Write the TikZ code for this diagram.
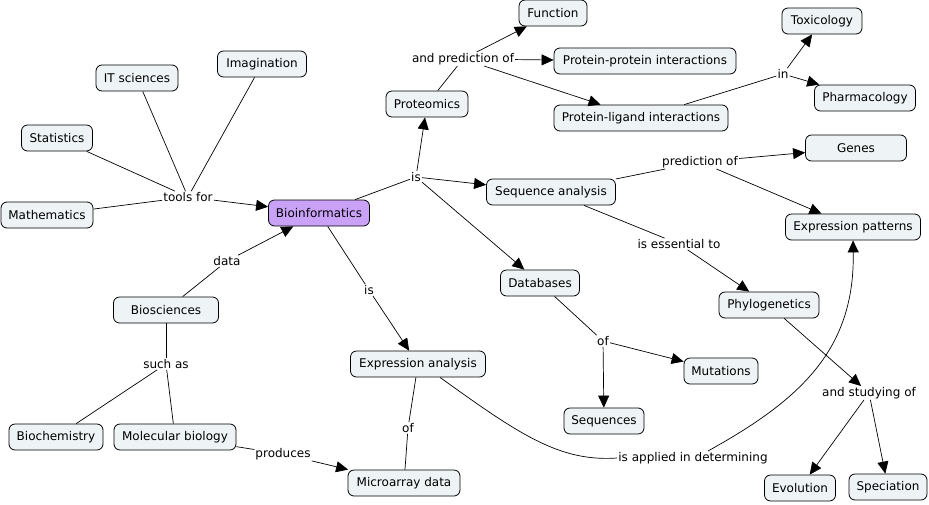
\documentclass[tikz,border=0pt]{standalone}
\usepackage{fontspec}
\setmainfont{DejaVu Sans}
\usetikzlibrary{arrows.meta}
\definecolor{boxfill}{HTML}{EEF3F5}
\definecolor{biofill}{HTML}{C9A2F7}
\tikzset{
  concept/.style={draw=black, fill=boxfill, rounded corners=6pt, line width=0.8pt,
    minimum height=26pt, inner xsep=4pt, inner ysep=2pt, font=\fontsize{12}{13}\selectfont},
  lbl/.style={inner sep=1pt, font=\fontsize{12}{13}\selectfont},
  conn/.style={line width=0.7pt},
  arr/.style={conn, -{Triangle[length=12pt,width=11pt]}}
}
\begin{document}
\begin{tikzpicture}[x=1pt,y=-1pt]
\useasboundingbox (0,0) rectangle (929,504);
% concepts
\node[concept, minimum width=68pt] (func) at (553,13) {Function};
\node[concept, minimum width=182pt] (ppi) at (645,61) {Protein-protein interactions};
\node[concept, minimum width=174pt] (pli) at (641,118) {Protein-ligand interactions};
\node[concept, minimum width=80pt] (tox) at (822,21) {Toxicology};
\node[concept, minimum width=101pt] (pharm) at (865,98) {Pharmacology};
\node[concept, minimum width=101pt] (genes) at (856,148) {Genes};
\node[concept, minimum width=135pt] (exprp) at (853,227) {Expression patterns};
\node[concept, minimum width=82pt] (prot) at (427,104) {Proteomics};
\node[concept, minimum width=129pt] (seqa) at (551,192) {Sequence analysis};
\node[concept, minimum width=89pt] (imag) at (262,64) {Imagination};
\node[concept, minimum width=82pt] (its) at (137,78) {IT sciences};
\node[concept, minimum width=71pt] (stat) at (57,138) {Statistics};
\node[concept, minimum width=92pt] (math) at (47,215) {Mathematics};
\node[concept, minimum width=101pt, fill=biofill] (bio) at (319,213) {Bioinformatics};
\node[concept, minimum width=105pt] (bios) at (166,310) {Biosciences};
\node[concept, minimum width=94pt] (bioch) at (56,437) {Biochemistry};
\node[concept, minimum width=122pt] (molb) at (175,437) {Molecular biology};
\node[concept, minimum width=135pt] (expa) at (418,364) {Expression analysis};
\node[concept, minimum width=112pt] (micro) at (404,483) {Microarray data};
\node[concept, minimum width=79pt] (dbs) at (540,283) {Databases};
\node[concept, minimum width=74pt] (mut) at (721,371) {Mutations};
\node[concept, minimum width=80pt] (seqs) at (604,421) {Sequences};
\node[concept, minimum width=100pt] (phylo) at (769,305) {Phylogenetics};
\node[concept, minimum width=71pt] (evol) at (800,488) {Evolution};
\node[concept, minimum width=78pt] (spec) at (888,487) {Speciation};
% link labels
\node[lbl] (tools) at (188,197) {tools for};
\node[lbl] (data) at (227,261) {data};
\node[lbl] (such) at (166,364) {such as};
\node[lbl] (prod) at (283,454) {produces};
\node[lbl] (of1) at (408,428) {of};
\node[lbl] (apply) at (693,458) {is applied in determining};
\node[lbl] (is1) at (369,290) {is};
\node[lbl] (is2) at (416,177) {is};
\node[lbl] (andpred) at (463,59) {and prediction of};
\node[lbl] (in) at (783,74) {in};
\node[lbl] (pred) at (700,162) {prediction of};
\node[lbl] (esse) at (679,244) {is essential to};
\node[lbl] (of2) at (603,341) {of};
\node[lbl] (stud) at (869,393) {and studying of};
% connectors
\draw[conn] (stat) -- (tools);
\draw[conn] (its) -- (tools);
\draw[conn] (imag) -- (tools);
\draw[conn] (math) -- (tools);
\draw[arr] (tools) -- (bio);
\draw[conn] (bios) -- (data);
\draw[arr] (data) -- (bio);
\draw[conn] (bios) -- (such);
\draw[conn] (such) -- (bioch);
\draw[conn] (such) -- (molb);
\draw[conn] (molb) -- (prod);
\draw[arr] (prod) -- (micro);
\draw[conn] (expa) -- (of1);
\draw[conn] (of1) -- (micro);
\draw[conn] (bio) -- (is1);
\draw[arr] (is1) -- (expa);
\draw[conn] (bio) -- (is2);
\draw[arr] (is2) -- (prot);
\draw[arr] (is2) -- (seqa);
\draw[arr] (is2) -- (dbs);
\draw[conn] (prot) -- (andpred);
\draw[arr] (andpred) -- (func);
\draw[arr] (andpred) -- (ppi);
\draw[arr] (andpred) -- (pli);
\draw[conn] (pli) -- (in);
\draw[arr] (in) -- (tox);
\draw[arr] (in) -- (pharm);
\draw[conn] (seqa) -- (pred);
\draw[arr] (pred) -- (genes);
\draw[arr] (pred) -- (exprp);
\draw[conn] (seqa) -- (esse);
\draw[arr] (esse) -- (phylo);
\draw[conn] (dbs) -- (of2);
\draw[arr] (of2) -- (mut);
\draw[arr] (of2) -- (seqs);
\draw[arr] (phylo) -- (stud);
\draw[arr] (stud) -- (evol);
\draw[arr] (stud) -- (spec);
\draw[conn] ([xshift=22pt]expa.south) .. controls (520,435) and (560,462) .. (apply.west);
\draw[arr] ([xshift=15pt]apply.north) .. controls (800,400) and (855,350) .. (exprp.south);
\end{tikzpicture}
\end{document}
